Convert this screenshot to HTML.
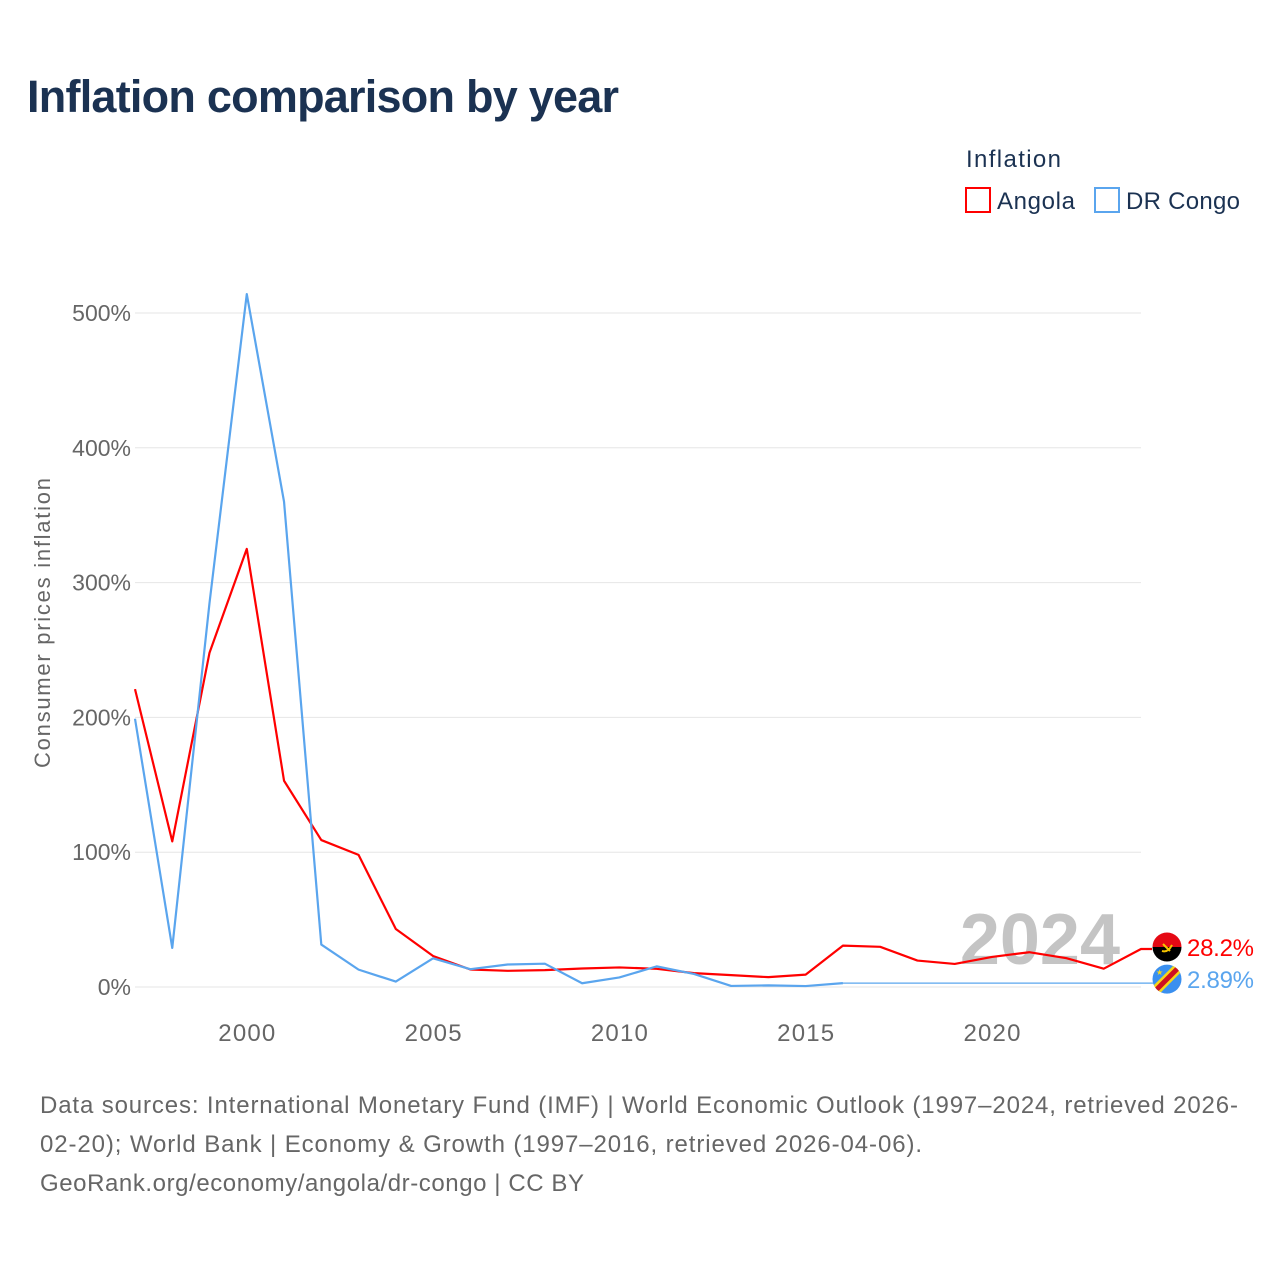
<!DOCTYPE html>
<html><head><meta charset="utf-8"><style>
body{margin:0;background:#fff;font-family:"Liberation Sans",sans-serif}
#wrap{position:relative;width:1280px;height:1280px;overflow:hidden}
</style></head><body>
<div id="wrap">
<svg id="chart" width="1280" height="1280" xmlns="http://www.w3.org/2000/svg">
<text x="27" y="112" font-size="45" font-weight="bold" fill="#1b3252" textLength="592">Inflation comparison by year</text>
<text x="966" y="167" font-size="24" fill="#1b3252" textLength="95">Inflation</text>
<g><rect x="966" y="188" width="24" height="24" fill="none" stroke="#ff0000" stroke-width="2"/><text x="997" y="209" font-size="24" fill="#1b3252" textLength="78">Angola</text></g>
<g><rect x="1095" y="188" width="24" height="24" fill="none" stroke="#5aa5ee" stroke-width="2"/><text x="1126" y="209" font-size="24" fill="#1b3252" textLength="114">DR Congo</text></g>
<text transform="translate(50,623) rotate(-90)" text-anchor="middle" font-size="22" fill="#666" textLength="290">Consumer prices inflation</text>
<g id="grid"></g><g id="yticks"></g><g id="xticks"></g>
<text x="1120" y="964" text-anchor="end" font-size="72" font-weight="bold" fill="#c4c4c4">2024</text>
<g id="series"></g>
<text x="40" y="1113" font-size="24" fill="#666" textLength="1198">Data sources: International Monetary Fund (IMF) | World Economic Outlook (1997–2024, retrieved 2026-</text>
<text x="40" y="1152" font-size="24" fill="#666" textLength="882">02-20); World Bank | Economy &amp; Growth (1997–2016, retrieved 2026-04-06).</text>
<text x="40" y="1191" font-size="24" fill="#666" textLength="544">GeoRank.org/economy/angola/dr-congo | CC BY</text>
</svg></div>
<script>
const years=[1997,1998,1999,2000,2001,2002,2003,2004,2005,2006,2007,2008,2009,2010,2011,2012,2013,2014,2015,2016,2017,2018,2019,2020,2021,2022,2023,2024];
const angola=[221,108,248,325,153,109,98,43,23,13,12,12.5,13.7,14.5,13.5,10.3,8.8,7.3,9.2,30.7,29.8,19.6,17.1,22.3,25.8,21.4,13.6,28.2];
const congoYears=[1997,1998,1999,2000,2001,2002,2003,2004,2005,2006,2007,2008,2009,2010,2011,2012,2013,2014,2015,2016];
const congo=[199,29,285,514,360,31.5,12.9,4,21.3,13.2,16.7,17.3,2.8,7.1,15.3,9.7,0.8,1.2,0.7,2.89];
const yTicks=[0,100,200,300,400,500];
const xTicks=[2000,2005,2010,2015,2020];
const NS="http://www.w3.org/2000/svg";
const X=y=>135+(y-1997)*(1141-135)/27;
const Y=v=>987-v*(987-313)/500;
function mk(tag,at,parent){const e=document.createElementNS(NS,tag);for(const k in at)e.setAttribute(k,at[k]);document.getElementById(parent).appendChild(e);return e;}
yTicks.forEach(t=>{
 const l=mk('line',{x1:135,x2:1141,y1:Y(t),y2:Y(t),stroke:'#e6e6e6','stroke-width':1},'grid');
 
 
 const tx=mk('text',{x:131,y:Y(t)+8,'text-anchor':'end','font-size':23,fill:'#666'},'yticks');
 tx.textContent=t+'%';
 
 
});
xTicks.forEach(t=>{
 const tx=mk('text',{x:X(t),y:1041,'text-anchor':'middle','font-size':24,fill:'#666',textLength:57},'xticks');
 tx.textContent=t;
 
 
});
const aPts=years.map((y,i)=>X(y)+','+Y(angola[i]));
aPts.push('1152,'+Y(angola[angola.length-1]));
const pa=mk('polyline',{points:aPts.join(' '),fill:'none',stroke:'#ff0000','stroke-width':2.2,'stroke-linejoin':'round'},'series');


const cPts=congoYears.map((y,i)=>X(y)+','+Y(congo[i]));
const cl=congo[congo.length-1];
const pc=mk('polyline',{points:cPts.join(' '),fill:'none',stroke:'#5aa5ee','stroke-width':2.2,'stroke-linejoin':'round'},'series');


const ext=mk('line',{x1:X(2016),x2:1155,y1:Y(cl),y2:Y(cl),stroke:'#5aa5ee','stroke-width':1.2},'series');


const ay=Y(angola[angola.length-1])-2;
const g1=mk('g',{},'series');


g1.innerHTML=`<clipPath id="ca"><circle cx="1167" cy="${ay}" r="14.5"/></clipPath><g clip-path="url(#ca)"><rect x="1150" y="${ay-15}" width="34" height="15" fill="#e50914"/><rect x="1150" y="${ay}" width="34" height="15" fill="#000"/><path d="M1162 ${ay+4} q6 2 10 -6" fill="none" stroke="#f5c400" stroke-width="2"/><line x1="1163" y1="${ay-3}" x2="1170" y2="${ay+4}" stroke="#f5c400" stroke-width="2"/></g>`;
const cy=Y(cl)-4;
const g2=mk('g',{},'series');


g2.innerHTML=`<clipPath id="cc"><circle cx="1167" cy="${cy}" r="14.5"/></clipPath><g clip-path="url(#cc)"><rect x="1150" y="${cy-15}" width="34" height="30" fill="#3a8fef"/><line x1="1150" y1="${cy+17}" x2="1184" y2="${cy-17}" stroke="#f7d618" stroke-width="10"/><line x1="1150" y1="${cy+17}" x2="1184" y2="${cy-17}" stroke="#ce1021" stroke-width="5"/><text x="1156" y="${cy-4}" font-size="8" fill="#f7d618">★</text></g>`;
const la=mk('text',{x:1187,y:ay+9,'font-size':24,fill:'#ff0000',textLength:67},'series');
la.textContent=angola[angola.length-1].toFixed(1)+'%';


const lc=mk('text',{x:1187,y:cy+9,'font-size':24,fill:'#5aa5ee',textLength:67},'series');
lc.textContent=cl.toFixed(2)+'%';


</script>
</body></html>
